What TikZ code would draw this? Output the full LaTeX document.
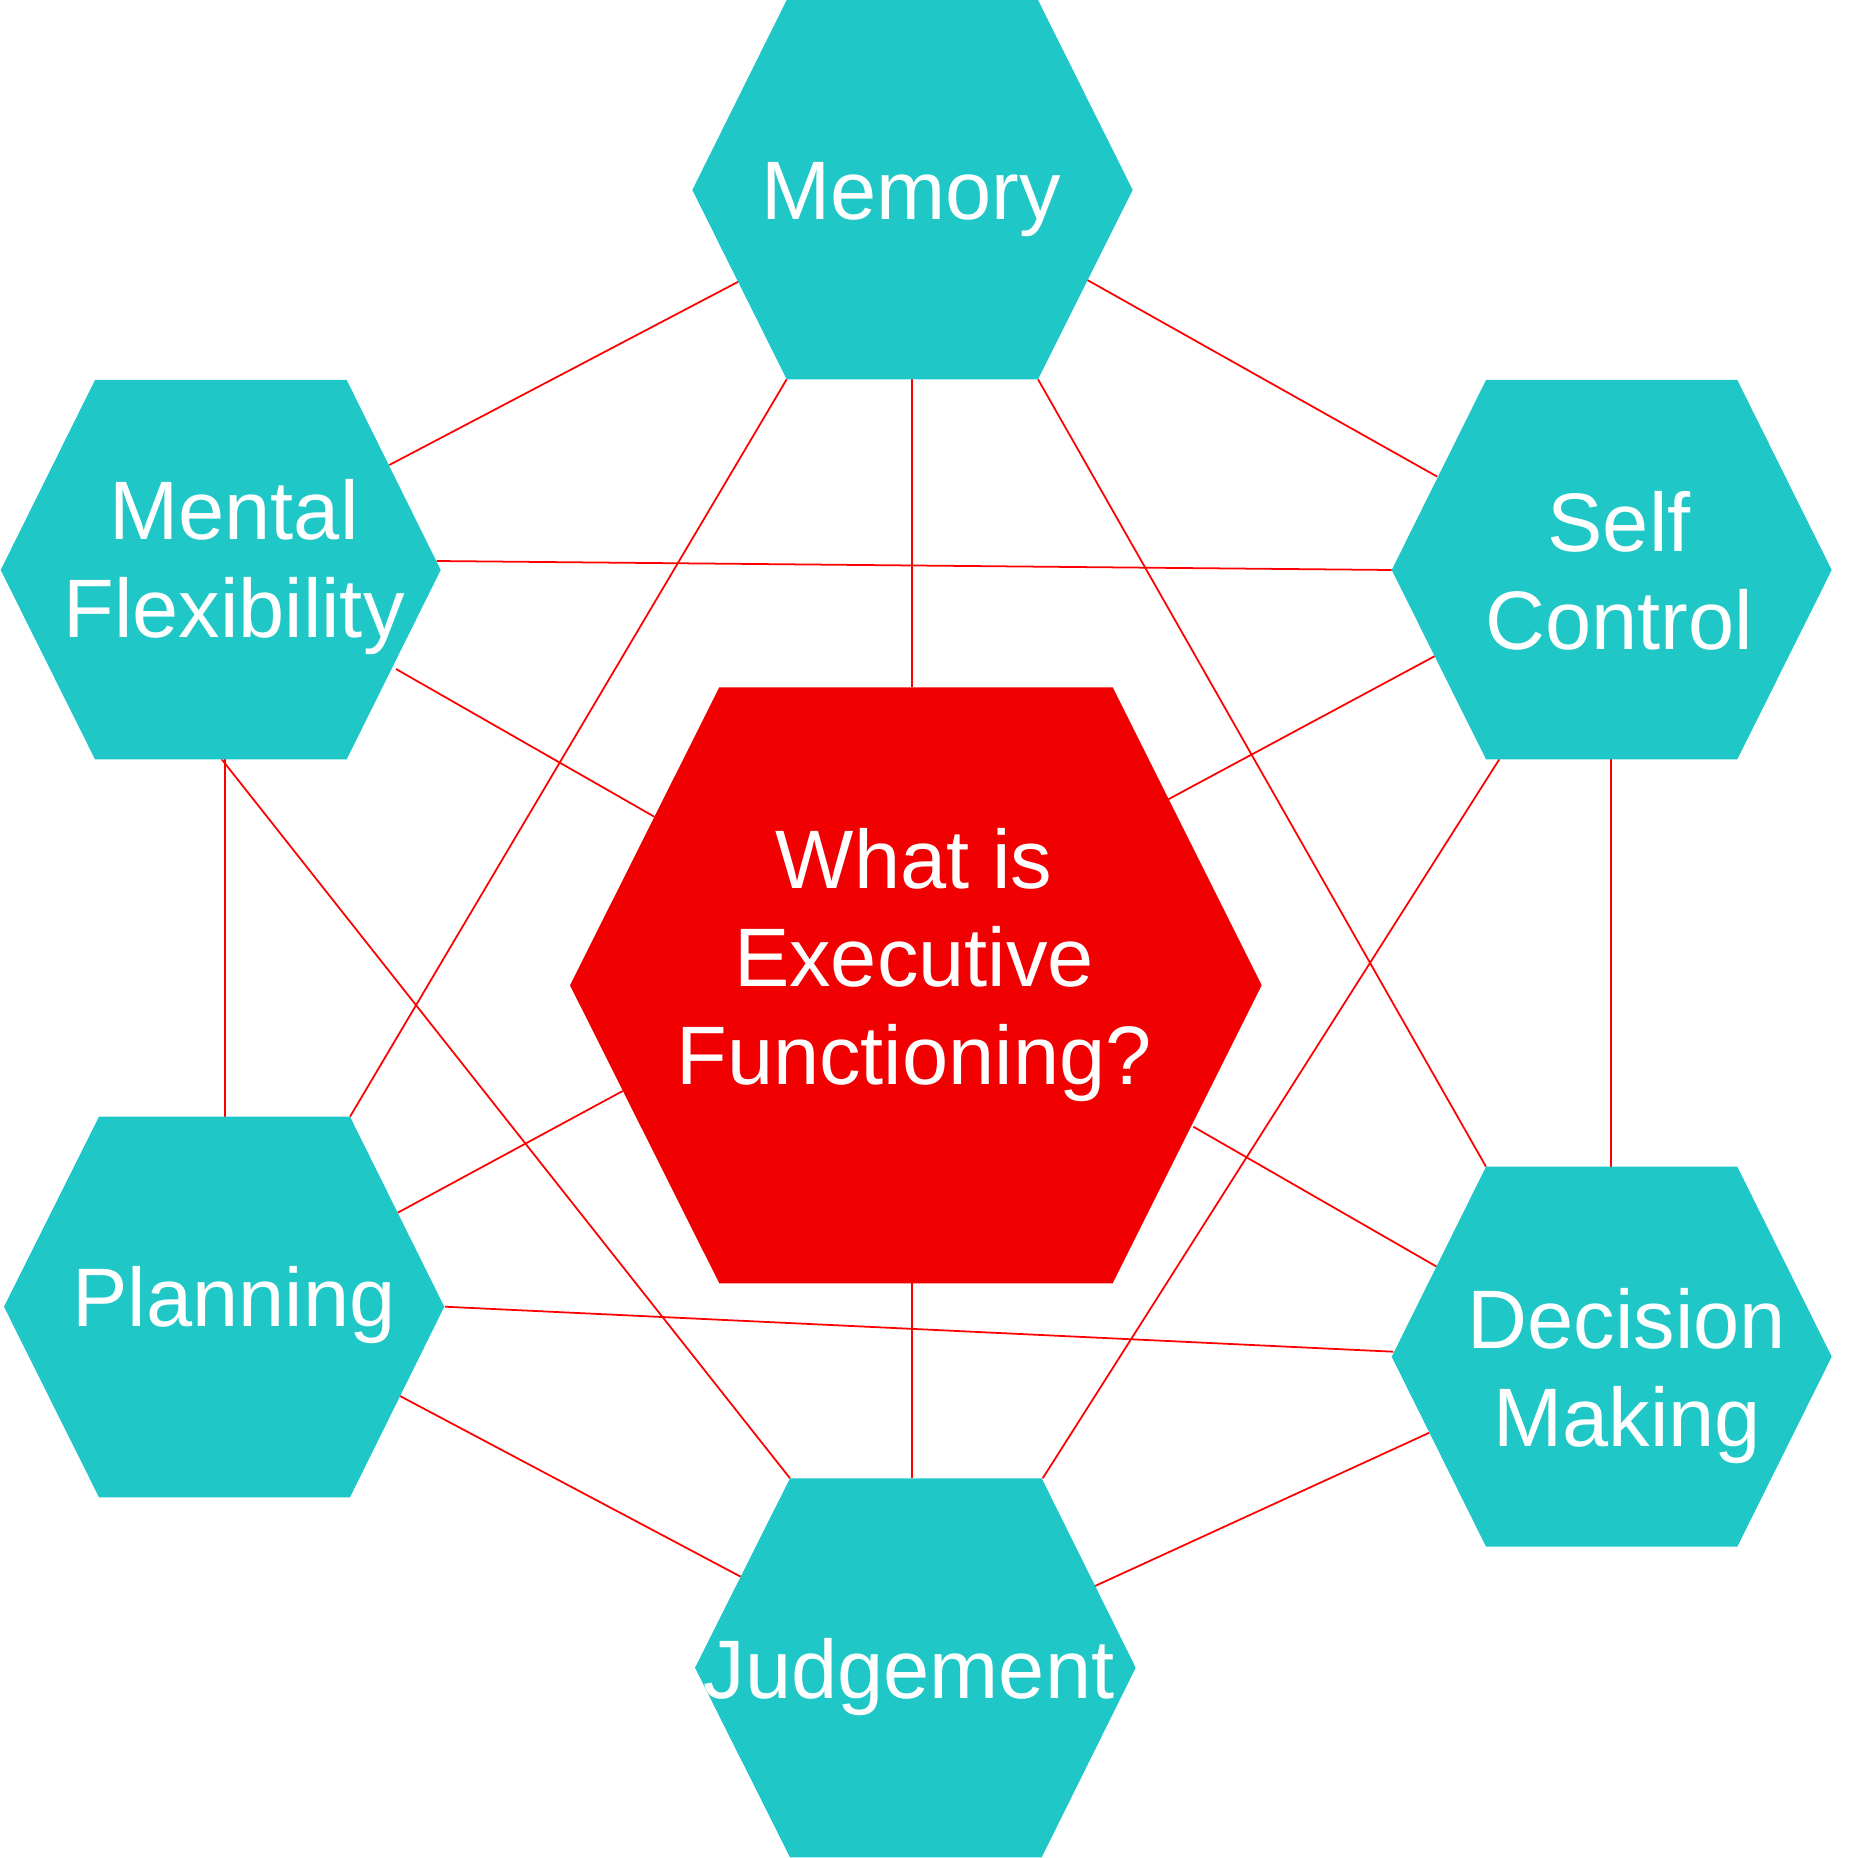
\documentclass[tikz,border=0pt]{standalone}
\usepackage{fontspec}
\setmainfont{Liberation Sans}
\definecolor{hexteal}{RGB}{32,199,199}
\definecolor{hexred}{RGB}{240,0,0}
\definecolor{linkred}{RGB}{255,0,0}
\newcommand{\twolines}[2]{\begin{tabular}[t]{@{}c@{}}#1\\#2\end{tabular}}
\newcommand{\threelines}[3]{\begin{tabular}[t]{@{}c@{}}#1\\#2\\#3\end{tabular}}
\begin{document}
\begin{tikzpicture}[x=0.01cm,y=-0.01cm,
  link/.style={draw=linkred,line width=0.5pt},
  tealhex/.style={fill=hexteal},
  redhex/.style={fill=hexred},
  hexlabel/.style={anchor=base,inner sep=0pt,text=white,font=\fontsize{23.6}{28}\selectfont}]
\useasboundingbox (0,0) rectangle (1870,1858);

% connector end points
\coordinate (l1a) at (738.3,281.7);   \coordinate (l1b) at (389.3,465);
\coordinate (l2a) at (1087.3,280);    \coordinate (l2b) at (1437.3,476.7);
\coordinate (l3a) at (911.7,379.3);   \coordinate (l3b) at (911.7,687.3);
\coordinate (l4a) at (786.7,379.3);   \coordinate (l4b) at (350,1116.7);
\coordinate (l5a) at (1038,379.3);    \coordinate (l5b) at (1486,1166.7);
\coordinate (l6a) at (436.7,561);     \coordinate (l6b) at (1391.7,570);
\coordinate (l7a) at (396,669);       \coordinate (l7b) at (654.3,816.7);
\coordinate (l8a) at (225,759.3);     \coordinate (l8b) at (225,1116.7);
\coordinate (l9a) at (221.7,759.3);   \coordinate (l9b) at (790,1478.3);
\coordinate (l10a) at (1435,656);     \coordinate (l10b) at (1168.3,799.3);
\coordinate (l11a) at (1499.3,759.3); \coordinate (l11b) at (1042.7,1478.3);
\coordinate (l12a) at (1610.7,759.3); \coordinate (l12b) at (1610.7,1166.7);
\coordinate (l13a) at (622.7,1091);   \coordinate (l13b) at (397.7,1212.7);
\coordinate (l14a) at (1193.3,1126.7);\coordinate (l14b) at (1436.7,1266.7);
\coordinate (l15a) at (911.7,1283.3); \coordinate (l15b) at (911.7,1478.3);
\coordinate (l16a) at (445,1306.7);   \coordinate (l16b) at (1393.3,1351.7);
\coordinate (l17a) at (400,1396);     \coordinate (l17b) at (740.7,1576.7);
\coordinate (l18a) at (1429.3,1432.7);\coordinate (l18b) at (1095,1586);

\foreach \i in {1,...,18} {\draw[link] (l\i a) -- (l\i b);}

% hexagons
\path[tealhex] (786.7,0) -- (1038,0) -- (1132.7,190) -- (1038,379.3) -- (786.7,379.3) -- (692.3,190) -- cycle;
\path[tealhex] (95,380) -- (346.7,380) -- (440.7,570) -- (346.7,759.3) -- (95,759.3) -- (0.7,570) -- cycle;
\path[tealhex] (1486,380) -- (1737.3,380) -- (1831.7,570) -- (1737.3,759.3) -- (1486,759.3) -- (1391.7,570) -- cycle;
\path[tealhex] (99,1116.7) -- (350,1116.7) -- (444.3,1306.7) -- (350,1497.3) -- (99,1497.3) -- (4,1306.7) -- cycle;
\path[tealhex] (1486,1166.7) -- (1737.3,1166.7) -- (1831.7,1356.7) -- (1737.3,1546.7) -- (1486,1546.7) -- (1391.7,1356.7) -- cycle;
\path[tealhex] (790,1478.3) -- (1041.7,1478.3) -- (1135.7,1667.7) -- (1041.7,1857.3) -- (790,1857.3) -- (695,1667.7) -- cycle;
\path[redhex] (719.3,687.3) -- (1112.7,687.3) -- (1261.7,985.3) -- (1112.7,1283.3) -- (719.3,1283.3) -- (570,985.3) -- cycle;

% labels
\node[hexlabel] (memory) at (911,220) {Memory};
\node[hexlabel] (mentalflex) at (234,539) {\twolines{Mental}{Flexibility}};
\node[hexlabel] (selfcontrol) at (1619,551) {\twolines{Self}{Control}};
\node[hexlabel] (center) at (914,888) {\threelines{What is}{Executive}{Functioning?}};
\node[hexlabel] (planning) at (234,1326) {Planning};
\node[hexlabel] (decision) at (1627,1348) {\twolines{Decision}{Making}};
\node[hexlabel] (judgement) at (909,1698) {Judgement};
\end{tikzpicture}
\end{document}
